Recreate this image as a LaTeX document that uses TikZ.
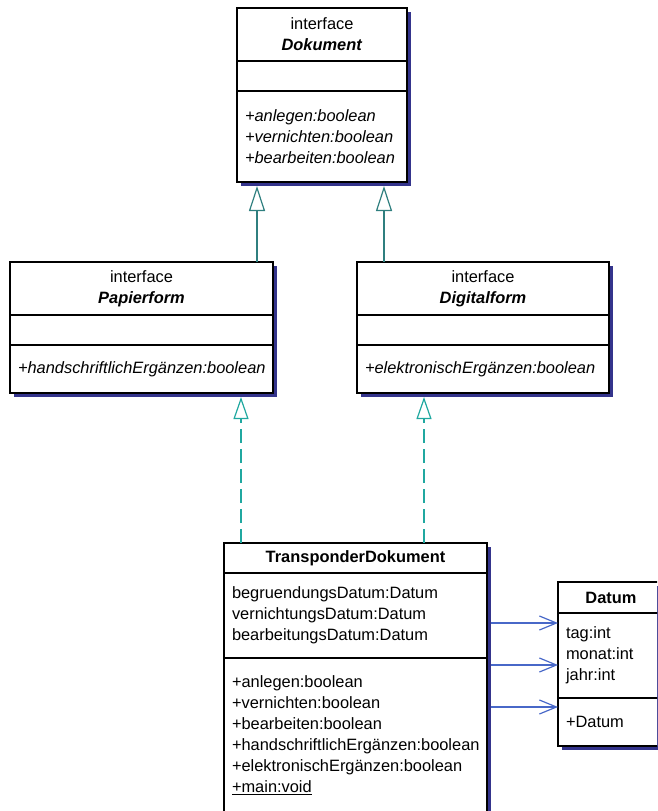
\documentclass[tikz,border=0pt]{standalone}
\usepackage{fontspec}
\setmainfont{Liberation Sans}
\usetikzlibrary{arrows.meta,backgrounds}
\definecolor{Shade}{RGB}{52,52,140}
\definecolor{Tsolid}{RGB}{47,127,127}
\definecolor{Tdash}{RGB}{32,168,160}
\definecolor{Aline}{RGB}{72,104,200}

\begin{document}
\begin{tikzpicture}[x=1pt,y=-1pt,
  compart/.style={draw,line width=1.2pt,fill=white,anchor=north west,outer sep=0pt,
    inner xsep=8pt,inner ysep=0pt,text width=#1,align=left,
    font=\fontsize{16.4}{21}\selectfont},
  realize/.style={draw=Tsolid,line width=1.2pt,shorten >=4pt,
    -{Triangle[length=25pt,width=16pt,fill=white]}},
  implem/.style={draw=Tdash,line width=1.2pt,shorten >=4pt,dash pattern=on 14pt off 6pt,
    -{Triangle[length=22pt,width=15pt,fill=white]}},
  assoc/.style={draw=Aline,line width=1.2pt,shorten <=4pt,
    -{Straight Barb[length=17pt,width=14pt]}},
  shadowbox/.style={fill=Shade}]
\path[use as bounding box] (0,0) rectangle (657,811);
\clip (0,0) rectangle (657,811);
% Dokument
\node[compart=154pt,align=center,minimum height=53pt] (dok-head) at (237,8) {interface\\\textbf{\textit{Dokument}}};
\node[compart=154pt,minimum height=30pt] (dok-attr) at (dok-head.south west) {};
\node[compart=154pt,minimum height=91pt] (dok-ops) at (dok-attr.south west) {\itshape +anlegen:boolean\\+vernichten:boolean\\+bearbeiten:boolean};
% Papierform
\node[compart=247pt,align=center,minimum height=53pt] (pap-head) at (10,262) {interface\\\textbf{\textit{Papierform}}};
\node[compart=247pt,minimum height=30pt] (pap-attr) at (pap-head.south west) {};
\node[compart=247pt,minimum height=48pt] (pap-ops) at (pap-attr.south west) {\itshape +handschriftlichErgänzen:boolean};
% Digitalform
\node[compart=236pt,align=center,minimum height=53pt] (dig-head) at (357,262) {interface\\\textbf{\textit{Digitalform}}};
\node[compart=236pt,minimum height=30pt] (dig-attr) at (dig-head.south west) {};
\node[compart=236pt,minimum height=48pt] (dig-ops) at (dig-attr.south west) {\itshape +elektronischErgänzen:boolean};
% TransponderDokument
\node[compart=247pt,align=center,minimum height=30pt] (td-head) at (224,543) {\textbf{TransponderDokument}};
\node[compart=247pt,minimum height=85pt] (td-attr) at (td-head.south west) {begruendungsDatum:Datum\\vernichtungsDatum:Datum\\bearbeitungsDatum:Datum};
\node[compart=247pt,minimum height=155pt] (td-ops) at (td-attr.south west) {+anlegen:boolean\\+vernichten:boolean\\+bearbeiten:boolean\\+handschriftlichErgänzen:boolean\\+elektronischErgänzen:boolean\\\underline{+main:void}};
% Datum
\node[compart=90pt,align=center,minimum height=31pt] (dat-head) at (558,582) {\textbf{Datum}};
\node[compart=90pt,minimum height=85pt] (dat-attr) at (dat-head.south west) {tag:int\\monat:int\\jahr:int};
\node[compart=90pt,minimum height=48pt] (dat-ops) at (dat-attr.south west) {+Datum};
% shadows
\begin{scope}[on background layer]
\fill[shadowbox] ([shift={(4pt,-4pt)}]dok-head.north west) rectangle ([shift={(4pt,-4pt)}]dok-ops.south east);
\fill[shadowbox] ([shift={(4pt,-4pt)}]pap-head.north west) rectangle ([shift={(4pt,-4pt)}]pap-ops.south east);
\fill[shadowbox] ([shift={(4pt,-4pt)}]dig-head.north west) rectangle ([shift={(4pt,-4pt)}]dig-ops.south east);
\fill[shadowbox] ([shift={(4pt,-4pt)}]td-head.north west) rectangle ([shift={(4pt,-4pt)}]td-ops.south east);
\fill[shadowbox] ([shift={(4pt,-4pt)}]dat-head.north west) rectangle ([shift={(4pt,-4pt)}]dat-ops.south east);
\end{scope}
% connectors
\coordinate (g1) at (257,0);
\coordinate (g2) at (384,0);
\coordinate (i1) at (241,0);
\coordinate (i2) at (424,0);
\coordinate (a1) at (0,623);
\coordinate (a2) at (0,665);
\coordinate (a3) at (0,707);
\draw[realize] (pap-head.north -| g1) -- (dok-ops.south -| g1);
\draw[realize] (dig-head.north -| g2) -- (dok-ops.south -| g2);
\draw[implem] (td-head.north -| i1) -- (pap-ops.south -| i1);
\draw[implem] (td-head.north -| i2) -- (dig-ops.south -| i2);
\draw[assoc] (td-attr.east |- a1) -- (dat-attr.west |- a1);
\draw[assoc] (td-ops.east |- a2) -- (dat-attr.west |- a2);
\draw[assoc] (td-ops.east |- a3) -- (dat-ops.west |- a3);
\end{tikzpicture}
\end{document}
